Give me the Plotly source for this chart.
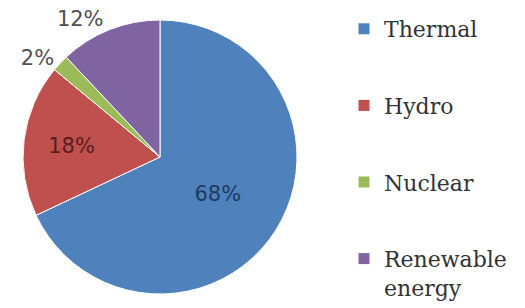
import plotly.graph_objects as go

categories = ["Thermal", "Hydro", "Nuclear", "Renewable energy"]
legend_labels = ["Thermal", "Hydro", "Nuclear", "Renewable<br>energy"]
values = [68, 18, 2, 12]
colors = ["#4F81BD", "#C0504D", "#9BBB59", "#8064A2"]
text_colors = ["#1F3B5F", "#5A1E1C", "#4F4F4F", "#4F4F4F"]
text_positions = ["inside", "inside", "outside", "outside"]

fig = go.Figure()
fig.add_trace(go.Pie(
    labels=categories,
    values=values,
    sort=False,
    direction="clockwise",
    rotation=0,
    marker=dict(colors=colors, line=dict(color="white", width=1)),
    texttemplate="%{percent:.0%}",
    textposition=text_positions,
    insidetextorientation="horizontal",
    textfont=dict(family="DejaVu Sans", size=21, color=text_colors),
    showlegend=False,
    domain=dict(x=[23/525, 297/525], y=[1-294/308, 1-20/308]),
    hoverinfo="skip",
))

for i, (lab, col) in enumerate(zip(legend_labels, colors)):
    fig.add_trace(go.Scatter(
        x=[None], y=[None], mode="markers", name=lab,
        marker=dict(symbol="square", color=col, size=11),
        legendgroup=f"g{i}", showlegend=True,
    ))

fig.update_layout(
    width=525, height=308,
    margin=dict(l=0, r=0, t=0, b=0),
    paper_bgcolor="white", plot_bgcolor="white",
    xaxis=dict(visible=False), yaxis=dict(visible=False),
    legend=dict(
        x=344/525, y=1-13/308, xanchor="left", yanchor="top",
        font=dict(family="DejaVu Serif", size=22, color="#333333"),
        tracegroupgap=45, itemwidth=30, valign="top",
        bgcolor="rgba(0,0,0,0)",
    ),
)

fig.write_html("out.html", config={"displayModeBar": False},
               post_script="document.body.style.margin='0';")
